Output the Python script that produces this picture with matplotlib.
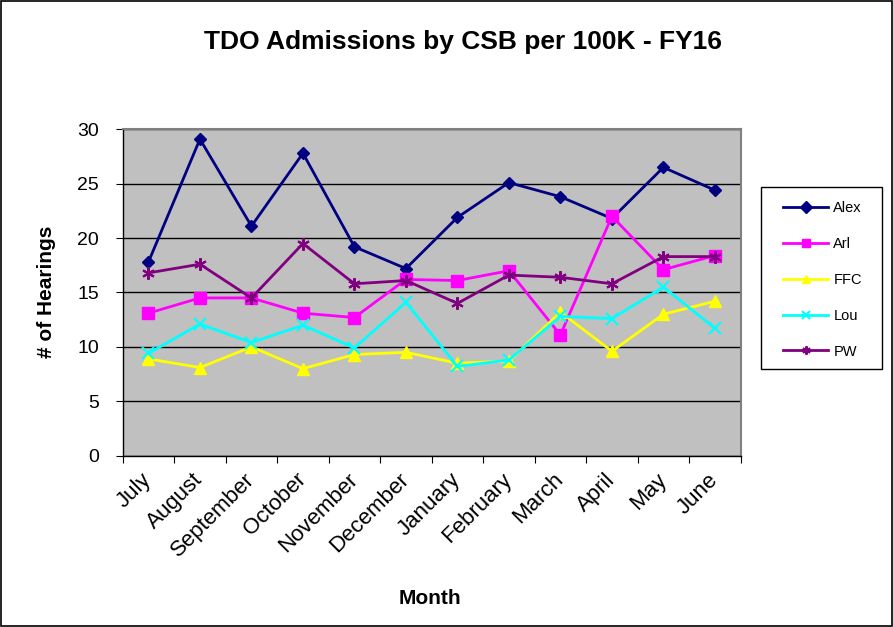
import numpy as np
import matplotlib.pyplot as plt
import matplotlib.transforms as mtransforms
from matplotlib.patches import Rectangle

plt.rcParams['font.family'] = ['Liberation Sans', 'DejaVu Sans']

months = ["July", "August", "September", "October", "November", "December",
          "January", "February", "March", "April", "May", "June"]
alex = [17.8, 29.1, 21.1, 27.8, 19.2, 17.2, 21.9, 25.1, 23.8, 21.8, 26.5, 24.4]
arl = [13.1, 14.5, 14.5, 13.1, 12.7, 16.2, 16.1, 17.0, 11.1, 22.0, 17.1, 18.4]
ffc = [8.9, 8.1, 10.0, 8.0, 9.3, 9.5, 8.5, 8.7, 13.2, 9.6, 13.0, 14.2]
lou = [9.4, 12.1, 10.4, 12.0, 9.9, 14.1, 8.2, 8.8, 12.8, 12.6, 15.5, 11.7]
pw = [16.8, 17.6, 14.5, 19.5, 15.8, 16.1, 14.0, 16.6, 16.4, 15.8, 18.3, 18.3]

series = [
    ("Alex", alex, "#000080", "D", 6),
    ("Arl", arl, "#FF00FF", "s", 8),
    ("FFC", ffc, "#FFFF00", "^", 8),
    ("Lou", lou, "#00FFFF", "x", 8),
    ("PW", pw, "#800080", (6, 2, 0), 9),
]

W, H = 893, 627
fig = plt.figure(figsize=(W / 100, H / 100), dpi=100)
fig.patches.append(Rectangle((0.001, 0.001), 0.998, 0.998, transform=fig.transFigure,
                             fill=False, edgecolor="black", linewidth=1.2))

ax = fig.add_axes([0.1374, 0.2732, 0.692, 0.5206])
ax.set_facecolor("#C0C0C0")

x = np.arange(len(months))
for name, vals, color, marker, ms in series:
    mew = 1.5 if marker in ("x", (6, 2, 0)) else 1
    ax.plot(x, vals, color=color, linewidth=2, marker=marker, markersize=ms,
            markerfacecolor=color, markeredgecolor=color, markeredgewidth=mew,
            label=name)

ax.set_xlim(-0.5, len(months) - 0.5)
ax.set_ylim(0, 30)
ax.set_yticks(range(0, 31, 5))
ax.yaxis.grid(True, color="black", linewidth=1)
ax.set_axisbelow(True)

ax.set_xticks(np.arange(len(months) + 1) - 0.5, minor=False)
ax.set_xticklabels([])
ax.set_xticks(x, minor=True)
ax.set_xticklabels(months, minor=True, rotation=45, ha="right", va="center",
                   rotation_mode="anchor", fontsize=16)
shift = mtransforms.ScaledTranslation(9 / 100, 0, fig.dpi_scale_trans)
for lbl in ax.get_xticklabels(minor=True):
    lbl.set_transform(lbl.get_transform() + shift)
ax.tick_params(axis="x", which="minor", length=0, pad=15)
ax.tick_params(axis="x", which="major", length=5, direction="out", color="black")
ax.tick_params(axis="y", length=5, direction="out", labelsize=14, pad=12)

for s in ["top", "right"]:
    ax.spines[s].set_color("#808080")
    ax.spines[s].set_linewidth(1.5)
for s in ["left", "bottom"]:
    ax.spines[s].set_color("black")
    ax.spines[s].set_linewidth(1)

fig.text(463 / W, 1 - 42 / H, "TDO Admissions by CSB per 100K - FY16", ha="center",
         va="center", fontsize=19, fontweight="bold")
fig.text(47 / W, 1 - 292 / H, "# of Hearings", rotation=90, ha="center", va="center",
         fontsize=15, fontweight="bold")
fig.text(430 / W, 1 - 598 / H, "Month", ha="center", va="center", fontsize=15,
         fontweight="bold")

# legend frame drawn separately so its padding matches
fig.patches.append(Rectangle((761 / W, 1 - 369 / H), 121 / W, 182 / H,
                             transform=fig.transFigure, facecolor="white",
                             edgecolor="black", linewidth=1, zorder=2))
leg = fig.legend(loc="upper left", bbox_to_anchor=(783 / W, 1 - 201 / H), ncol=1,
                 fontsize=10.5, frameon=False, labelspacing=1.5, handlelength=3.1,
                 borderpad=0, handletextpad=0.35, borderaxespad=0)
leg.set_zorder(3)
for h in leg.legend_handles:
    h.set_markersize(6)

fig.savefig("out.png", dpi=100)
